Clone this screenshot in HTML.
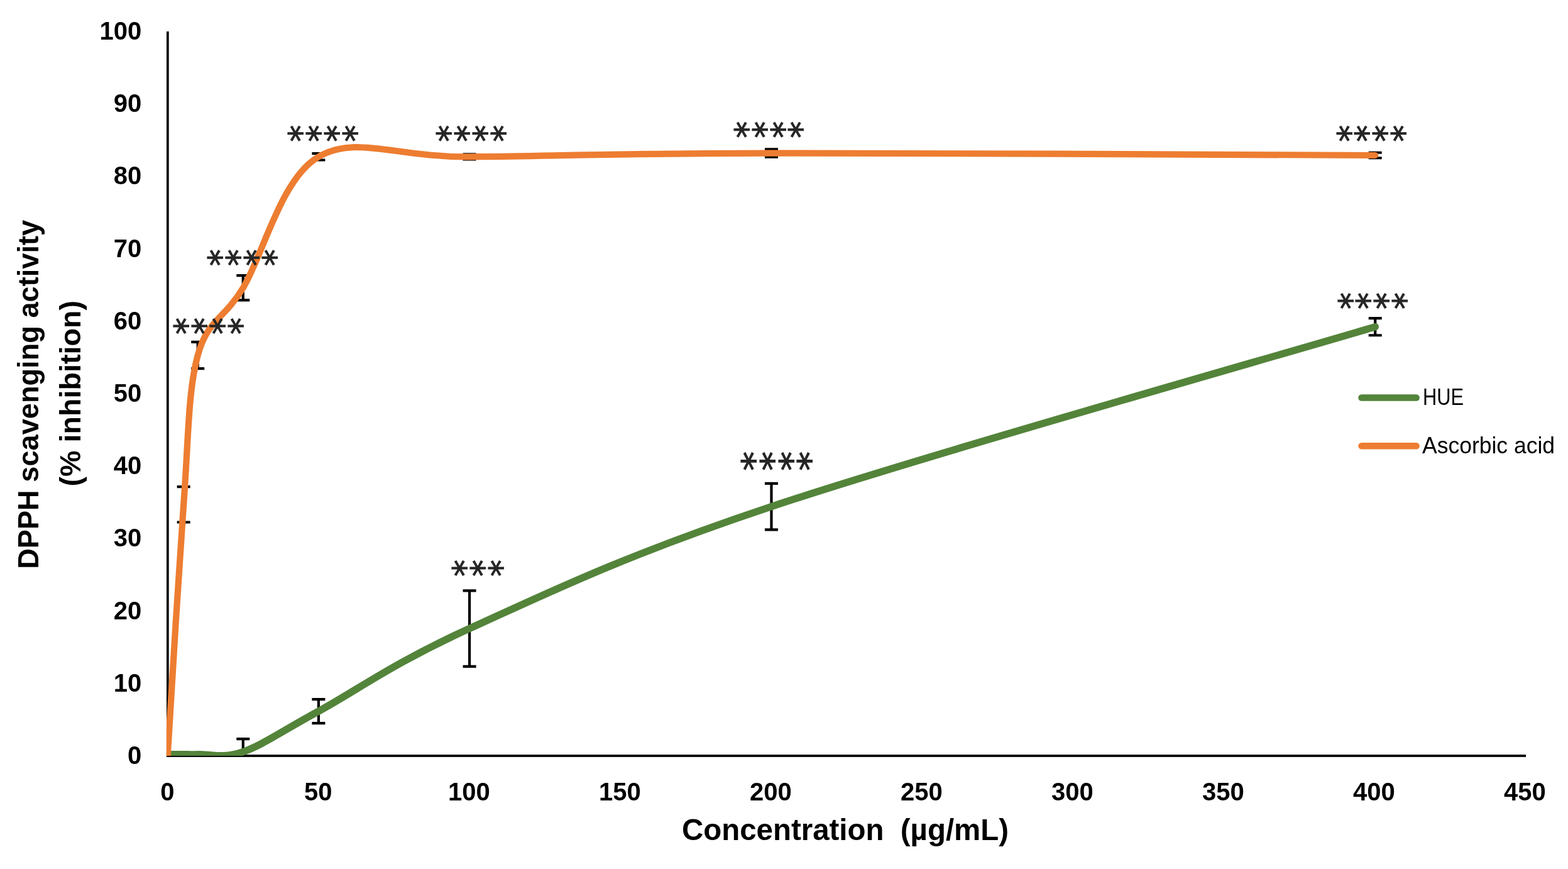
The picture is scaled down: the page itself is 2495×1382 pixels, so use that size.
<!DOCTYPE html>
<html><head><meta charset="utf-8"><title>DPPH scavenging activity</title>
<style>
html,body{margin:0;padding:0;background:#fff;}
svg{display:block;}
.tk{font-family:'Liberation Sans',sans-serif;font-weight:bold;font-size:40px;fill:#000;}
.ti{font-family:'Liberation Sans',sans-serif;font-weight:bold;fill:#000;}
.lg{font-family:'Liberation Sans',sans-serif;font-size:37px;fill:#000;}
.as{font-family:'DejaVu Sans',sans-serif;font-size:53px;fill:#262626;stroke:#262626;stroke-width:1.2px;}
</style></head><body>
<svg width="2495" height="1382" viewBox="0 0 2495 1382">
<rect width="2495" height="1382" fill="#fff"/>
<defs><clipPath id="pa"><rect x="264.8" y="0" width="2230" height="1202.0"/></clipPath></defs>

<rect x="265" y="50" width="3.7" height="1154" fill="#000"/>
<rect x="265" y="1200.1" width="2163" height="3.8" fill="#000"/>
<text class="tk" x="225.2" y="1215.0" text-anchor="end">0</text>
<text class="tk" x="225.2" y="1099.8" text-anchor="end">10</text>
<text class="tk" x="225.2" y="984.6" text-anchor="end">20</text>
<text class="tk" x="225.2" y="869.4" text-anchor="end">30</text>
<text class="tk" x="225.2" y="754.2" text-anchor="end">40</text>
<text class="tk" x="225.2" y="639.0" text-anchor="end">50</text>
<text class="tk" x="225.2" y="523.8" text-anchor="end">60</text>
<text class="tk" x="225.2" y="408.6" text-anchor="end">70</text>
<text class="tk" x="225.2" y="293.4" text-anchor="end">80</text>
<text class="tk" x="225.2" y="178.2" text-anchor="end">90</text>
<text class="tk" x="225.2" y="63.0" text-anchor="end">100</text>
<text class="tk" x="266.3" y="1272.7" text-anchor="middle">0</text>
<text class="tk" x="506.3" y="1272.7" text-anchor="middle">50</text>
<text class="tk" x="746.3" y="1272.7" text-anchor="middle">100</text>
<text class="tk" x="986.3" y="1272.7" text-anchor="middle">150</text>
<text class="tk" x="1226.3" y="1272.7" text-anchor="middle">200</text>
<text class="tk" x="1466.3" y="1272.7" text-anchor="middle">250</text>
<text class="tk" x="1706.3" y="1272.7" text-anchor="middle">300</text>
<text class="tk" x="1946.3" y="1272.7" text-anchor="middle">350</text>
<text class="tk" x="2186.3" y="1272.7" text-anchor="middle">400</text>
<text class="tk" x="2426.3" y="1272.7" text-anchor="middle">450</text>
<g clip-path="url(#pa)">
<g stroke="#000" stroke-width="4.2" fill="none"><path d="M386.79,1175.04V1216.28M376.29,1175.04H397.29M376.29,1216.28H397.29"/>
<path d="M506.89,1112.14V1150.16M496.39,1112.14H517.39M496.39,1150.16H517.39"/>
<path d="M747.08,939.34V1059.84M736.58,939.34H757.58M736.58,1059.84H757.58"/>
<path d="M1227.46,768.85V842.35M1216.96,768.85H1237.96M1216.96,842.35H1237.96"/>
<path d="M2188.22,506.08V533.26M2177.72,506.08H2198.72M2177.72,533.26H2198.72"/></g>
<path d="M266.70,1199.70 C270.70,1199.70 282.71,1199.70 290.72,1199.70 C298.73,1199.70 302.74,1200.20 314.74,1199.70 C330.75,1199.02 354.77,1207.09 386.79,1195.66 C418.82,1184.24 447.02,1163.73 506.89,1131.15 C566.94,1098.47 626.98,1053.85 747.08,999.59 C867.17,945.33 987.27,885.58 1227.46,805.60 C1467.65,725.61 2028.09,567.32 2188.22,519.67" fill="none" stroke="#53843A" stroke-width="11.5" stroke-linecap="round" stroke-linejoin="round"/>
<g stroke="#000" stroke-width="4.2" fill="none"><path d="M292.16,774.03V830.48M281.66,774.03H302.66M281.66,830.48H302.66"/>
<path d="M314.74,543.86V586.03M304.24,543.86H325.24M304.24,586.03H325.24"/>
<path d="M386.79,438.22V477.39M376.29,438.22H397.29M376.29,477.39H397.29"/>
<path d="M506.89,244.11V254.48M496.39,244.11H517.39M496.39,254.48H517.39"/>
<path d="M747.08,245.26V253.33M736.58,245.26H757.58M736.58,253.33H757.58"/>
<path d="M1227.46,237.32V249.76M1216.96,237.32H1237.96M1216.96,249.76H1237.96"/>
<path d="M2188.22,242.73V251.25M2177.72,242.73H2198.72M2177.72,251.25H2198.72"/></g>
<path d="M266.70,1202.00 C270.94,1135.38 284.15,908.43 292.16,802.26 C300.17,696.08 298.97,622.35 314.74,564.94 C330.51,507.54 354.77,510.42 386.79,457.81 C418.82,405.20 446.84,284.05 506.89,249.30 C566.94,214.54 626.99,250.26 747.08,249.30 C867.17,248.34 987.27,243.92 1227.46,243.54 C1467.65,243.15 2028.09,246.42 2188.22,246.99" fill="none" stroke="#ED7D31" stroke-width="10.2" stroke-linecap="round" stroke-linejoin="round"/>
</g>
<text class="as" x="261.2 290.0 318.8 347.6" y="505.3" rotate="90">****</text>
<text class="as" x="315.1 343.9 372.7 401.5" y="396.4" rotate="90">****</text>
<text class="as" x="443.4 472.2 501.0 529.8" y="199.0" rotate="90">****</text>
<text class="as" x="679.1 707.9 736.7 765.5" y="199.0" rotate="90">****</text>
<text class="as" x="1152.9 1181.7 1210.5 1239.3" y="193.0" rotate="90">****</text>
<text class="as" x="2111.6 2140.4 2169.2 2198.0" y="198.9" rotate="90">****</text>
<text class="as" x="704.1 732.9 761.7" y="890.3" rotate="90">***</text>
<text class="as" x="1164.3 1193.9 1223.5 1253.1" y="718.1" rotate="90" transform="translate(0,719.1) scale(1,1.16) translate(0,-719.1)">****</text>
<text class="as" x="2113.5 2142.3 2171.1 2199.9" y="465.3" rotate="90">****</text>
<line x1="2166.5" y1="632.5" x2="2253.6" y2="632.5" stroke="#53843A" stroke-width="10.5" stroke-linecap="round"/>
<line x1="2166.5" y1="709.2" x2="2253.6" y2="709.2" stroke="#ED7D31" stroke-width="10.5" stroke-linecap="round"/>
<text class="lg" x="2264" y="644.1" textLength="65" lengthAdjust="spacingAndGlyphs">HUE</text>
<text class="lg" x="2263" y="721" textLength="211" lengthAdjust="spacingAndGlyphs">Ascorbic acid</text>
<text class="ti" x="1085" y="1335.5" style="font-size:48px" xml:space="preserve" textLength="520" lengthAdjust="spacingAndGlyphs">Concentration  (µg/mL)</text>
<text class="ti" transform="translate(60.9,904.8) rotate(-90)" x="0" y="0" style="font-size:47px" textLength="554.9" lengthAdjust="spacingAndGlyphs">DPPH scavenging activity</text>
<text class="ti" transform="translate(128,773.5) rotate(-90)" x="0" y="0" style="font-size:47px" textLength="295.5" lengthAdjust="spacingAndGlyphs">(% inhibition)</text>
</svg></body></html>
